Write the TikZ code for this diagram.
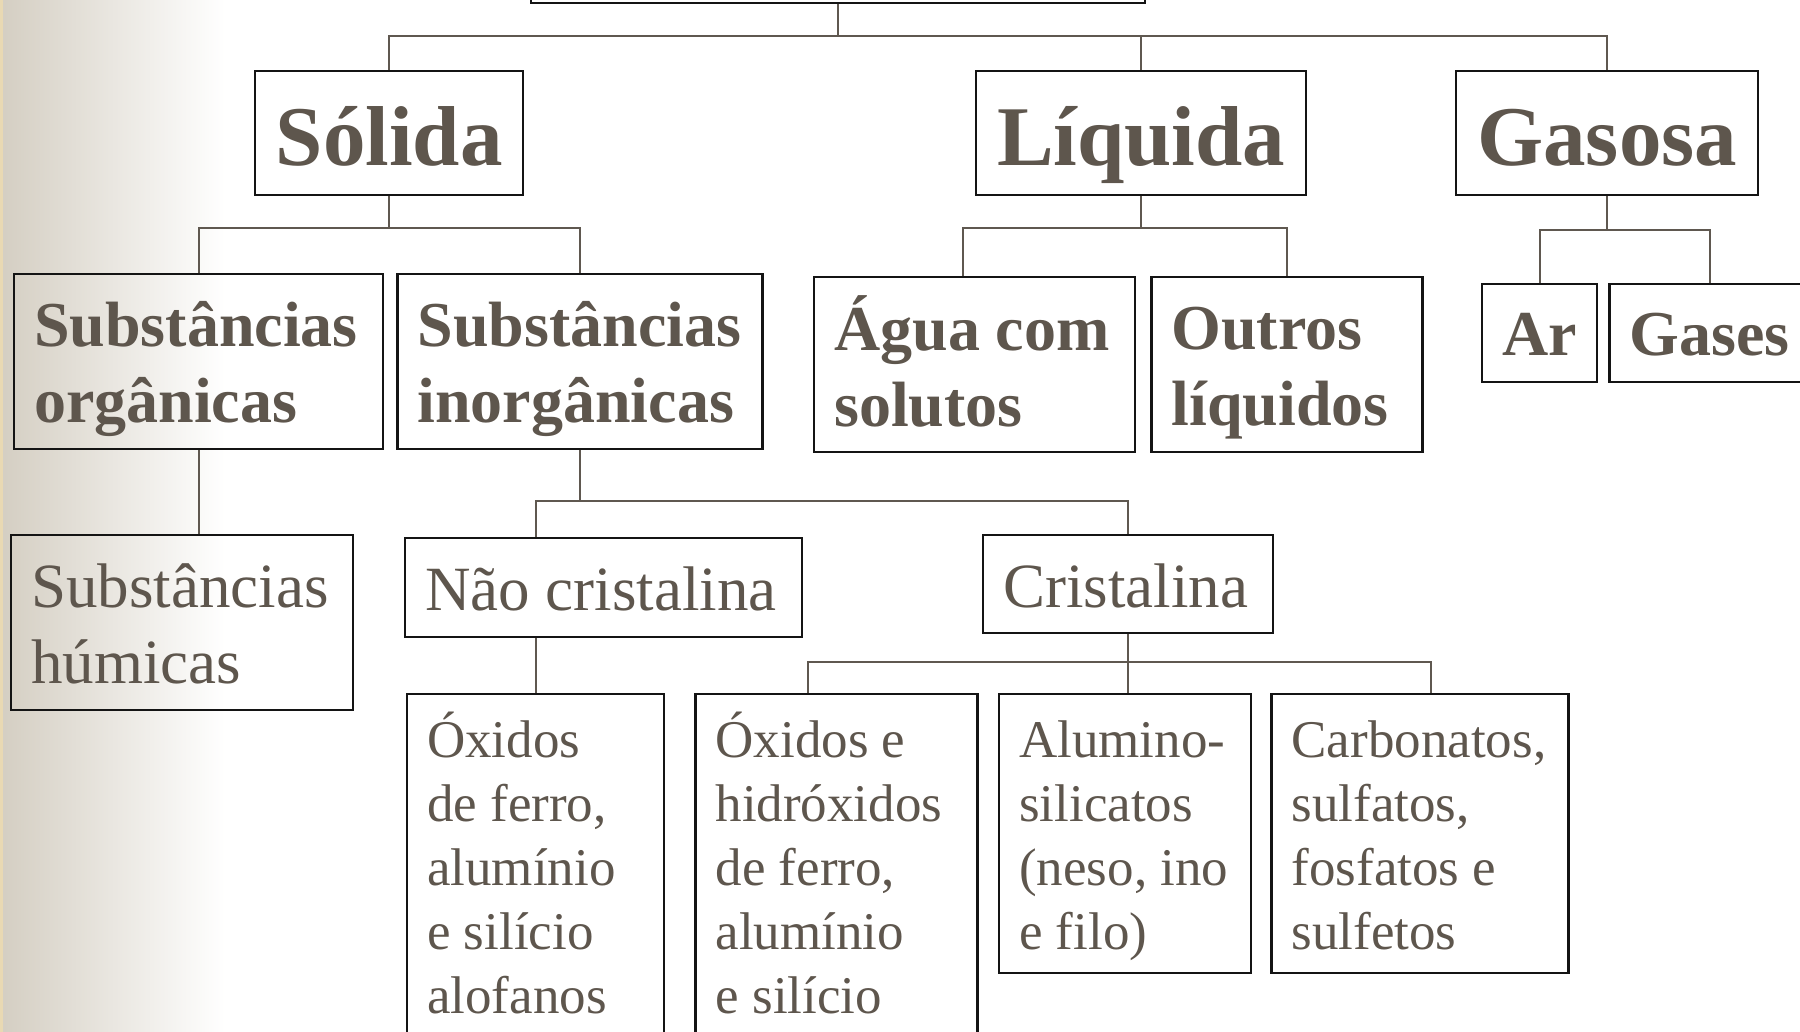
\documentclass[tikz,border=0pt]{standalone}
\usepackage{fontspec}
\setmainfont{Liberation Serif}
\usepackage{tikz}
\usetikzlibrary{positioning}
\usepackage{xcolor}
\definecolor{txt}{HTML}{5E564D}
\definecolor{linec}{HTML}{5F5850}
\definecolor{edge}{HTML}{141414}
\definecolor{bgl}{HTML}{D4CEC2}
\definecolor{stripe}{HTML}{E9D9B3}
\hyphenpenalty=10000
\exhyphenpenalty=10000

\begin{document}
\begin{tikzpicture}[x=1pt, y=-1pt,
    box/.style={draw=edge, line width=2.4pt, anchor=north west,
        inner xsep=20pt, inner ysep=0pt, align=flush left, text=txt},
    dims/.style n args={3}{text width=#1pt, text height=#2pt, text depth=#3pt},
    lvA/.style={font=\fontsize{85}{100}\selectfont\bfseries, align=center},
    lvB/.style={font=\fontsize{64}{76}\selectfont\bfseries},
    lvC/.style={font=\fontsize{63}{76}\selectfont},
    lvD/.style={font=\fontsize{53}{64}\selectfont},
    link/.style={draw=linec, line width=1.8pt}]

    \useasboundingbox (0,0) rectangle (1800,1032);
    % background strip
    \shade[left color=bgl, right color=white] (0,0) rectangle (225,1032);
    \fill[stripe] (0,0) rectangle (3,1032);

    % Add the boxes
    \node[draw=edge, line width=2.4pt,
        minimum width=614pt, minimum height=100pt,
        inner sep=0pt, anchor=south
        ] (root) at (838,4) {};
    \node[box, lvA, dims={228}{94}{30}] (solida) at (254,70) {Sólida};
    \node[box, lvA, dims={290}{94}{30}] (liquida) at (975,70) {Líquida};
    \node[box, lvA, dims={262}{94}{30}] (gasosa) at (1455,70) {Gasosa};

    \node[box, lvB, dims={329}{72}{103}] (org) at (13,273) {Substâncias\\orgânicas};
    \node[box, lvB, dims={325}{72}{103},
        right=12pt of org
        ] (inorg) {Substâncias\\inorgânicas};
    \node[box, lvB, dims={281}{73}{102}] (agua) at (813,276) {Água~com\\solutos};
    \node[box, lvB, dims={231}{72}{103},
        right=14pt of agua
        ] (outros) {Outros\\líquidos};
    \node[box, lvB, dims={75}{71}{27}] (ar) at (1481,283) {Ar};
    \node[box, lvB, dims={160}{71}{27},
        right=10pt of ar
        ] (gases) {Gases};

    \node[box, lvC, dims={302}{72}{103}] (hum) at (10,534) {Substâncias\\húmicas};
    \node[box, lvC, dims={357}{72}{27}] (nao) at (404,537) {Não~cristalina};
    \node[box, lvC, dims={250}{72}{26}] (crist) at (982,534) {Cristalina};

    \node[box, lvD, dims={217}{63}{304}] (oxA) at (406,693)
        {Óxidos\\de~ferro,\\alumínio\\e~silício\\alofanos};
    \node[box, lvD, dims={242}{63}{304},
        right=29pt of oxA
        ] (oxB) {Óxidos~e\\hidróxidos\\de~ferro,\\alumínio\\e~silício};
    \node[box, lvD, dims={212}{63}{216}] (alum) at (998,693)
        {Alumino-\\silicatos\\(neso,~ino\\e~filo)};
    \node[box, lvD, dims={257}{63}{216},
        right=18pt of alum
        ] (carb) {Carbonatos,\\sulfatos,\\fosfatos~e\\sulfetos};

    % Add the links
    \coordinate (j0) at (838,36);
    \draw[link] (root.south) -- (j0);
    \draw[link] (solida.north) -- (solida.north |- j0) -- (gasosa.north |- j0) -- (gasosa.north);
    \draw[link] (liquida.north) -- (liquida.north |- j0);

    \coordinate (j1) at (0,228);
    \coordinate (aguatop) at ([xshift=-12pt]agua.north);
    \draw[link] (solida.south) -- (solida.south |- j1);
    \draw[link] (org.north) -- (org.north |- j1) -- (inorg.north |- j1) -- (inorg.north);
    \draw[link] (liquida.south) -- (liquida.south |- j1);
    \draw[link] (aguatop) -- (aguatop |- j1) -- (outros.north |- j1) -- (outros.north);

    \coordinate (j2) at (0,230);
    \draw[link] (gasosa.south) -- (gasosa.south |- j2);
    \draw[link] (ar.north) -- (ar.north |- j2) -- (gases.north |- j2) -- (gases.north);

    \draw[link] (org.south) -- (org.south |- hum.north);

    \coordinate (j3) at (0,501);
    \draw[link] (inorg.south) -- (inorg.south |- j3);
    \draw[link] (oxA.north |- nao.north) -- (oxA.north |- j3) -- (crist.north |- j3) -- (crist.north);
    \draw[link] (oxA.north |- nao.south) -- (oxA.north);

    \coordinate (j4) at (0,662);
    \coordinate (oxbtop) at ([xshift=-29pt]oxB.north);
    \coordinate (carbtop) at ([xshift=11pt]carb.north);
    \draw[link] (crist.south) -- (crist.south |- alum.north);
    \draw[link] (oxbtop) -- (oxbtop |- j4) -- (carbtop |- j4) -- (carbtop);
\end{tikzpicture}
\end{document}
